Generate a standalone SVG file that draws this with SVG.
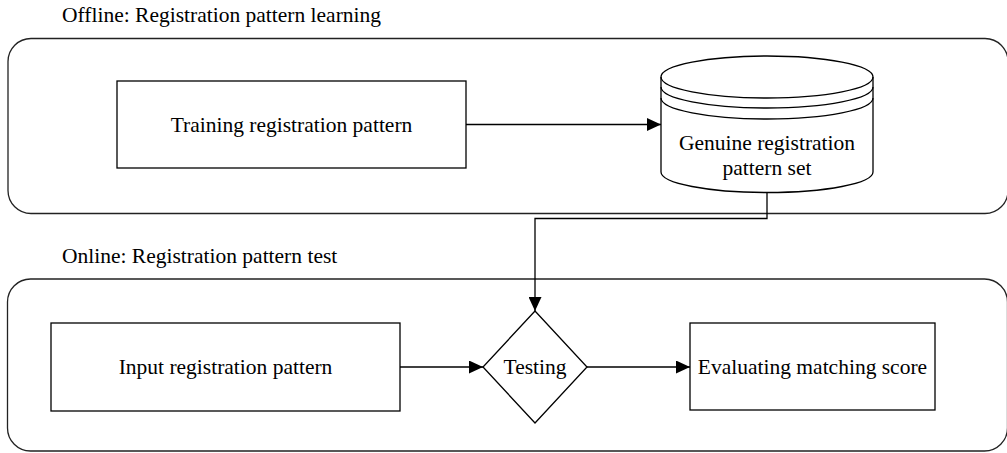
<svg xmlns="http://www.w3.org/2000/svg" width="1007" height="453" viewBox="0 0 1007 453">
<defs>
<style>
.ln{fill:none;stroke:#000;stroke-width:1.3}
.sh{fill:#fff;stroke:#000;stroke-width:1.3}
.grp{fill:none;stroke:#222;stroke-width:1.3}
text{font-family:"Liberation Serif","Times New Roman",serif;font-size:21.5px;fill:#000}
.c{text-anchor:middle}
</style>
<marker id="ah" viewBox="0 0 14 13" refX="14" refY="6.5" markerWidth="14" markerHeight="13" markerUnits="userSpaceOnUse" orient="auto">
<path d="M0,0 L14,6.5 L0,13 Z" fill="#000"/>
</marker>
</defs>
<rect width="1007" height="453" fill="#fff"/>
<g id="offline-group">
<rect class="grp" x="8" y="38.5" width="1000" height="175" rx="23" ry="23"/>
<text x="62" y="22">Offline: Registration pattern learning</text>
</g>
<g id="online-group">
<rect class="grp" x="7.5" y="279" width="1000" height="172" rx="23" ry="23"/>
<text x="62" y="263">Online: Registration pattern test</text>
</g>
<g id="training">
<rect class="sh" x="117" y="81" width="349" height="87"/>
<text class="c" x="291.5" y="132">Training registration pattern</text>
</g>
<g id="genuine-set">
<path class="sh" d="M661,77 L661,172 A106,20.5 0 0 0 873,172 L873,77 A106,21 0 0 0 661,77 Z"/>
<path class="ln" d="M661,77 A106,21 0 0 0 873,77"/>
<path class="ln" d="M661,87 A106,21 0 0 0 873,87"/>
<path class="ln" d="M661,98 A106,21 0 0 0 873,98"/>
<text class="c" x="767" y="150">Genuine registration</text>
<text class="c" x="767" y="175">pattern set</text>
</g>
<g id="input">
<rect class="sh" x="51" y="323" width="349" height="88"/>
<text class="c" x="225.5" y="374">Input registration pattern</text>
</g>
<g id="testing">
<path class="sh" d="M535,311 L587,367 L535,423 L483,367 Z"/>
<text class="c" x="535" y="374">Testing</text>
</g>
<g id="evaluating">
<rect class="sh" x="690" y="323" width="245" height="87"/>
<text class="c" x="812.5" y="374">Evaluating matching score</text>
</g>
<g id="connectors">
<path class="ln" d="M466,124.5 L661,124.5" marker-end="url(#ah)"/>
<path class="ln" d="M767,192.5 L767,218.5 L535,218.5 L535,311" marker-end="url(#ah)"/>
<path class="ln" d="M400,367 L483,367" marker-end="url(#ah)"/>
<path class="ln" d="M587,367 L690,367" marker-end="url(#ah)"/>
</g>
</svg>
